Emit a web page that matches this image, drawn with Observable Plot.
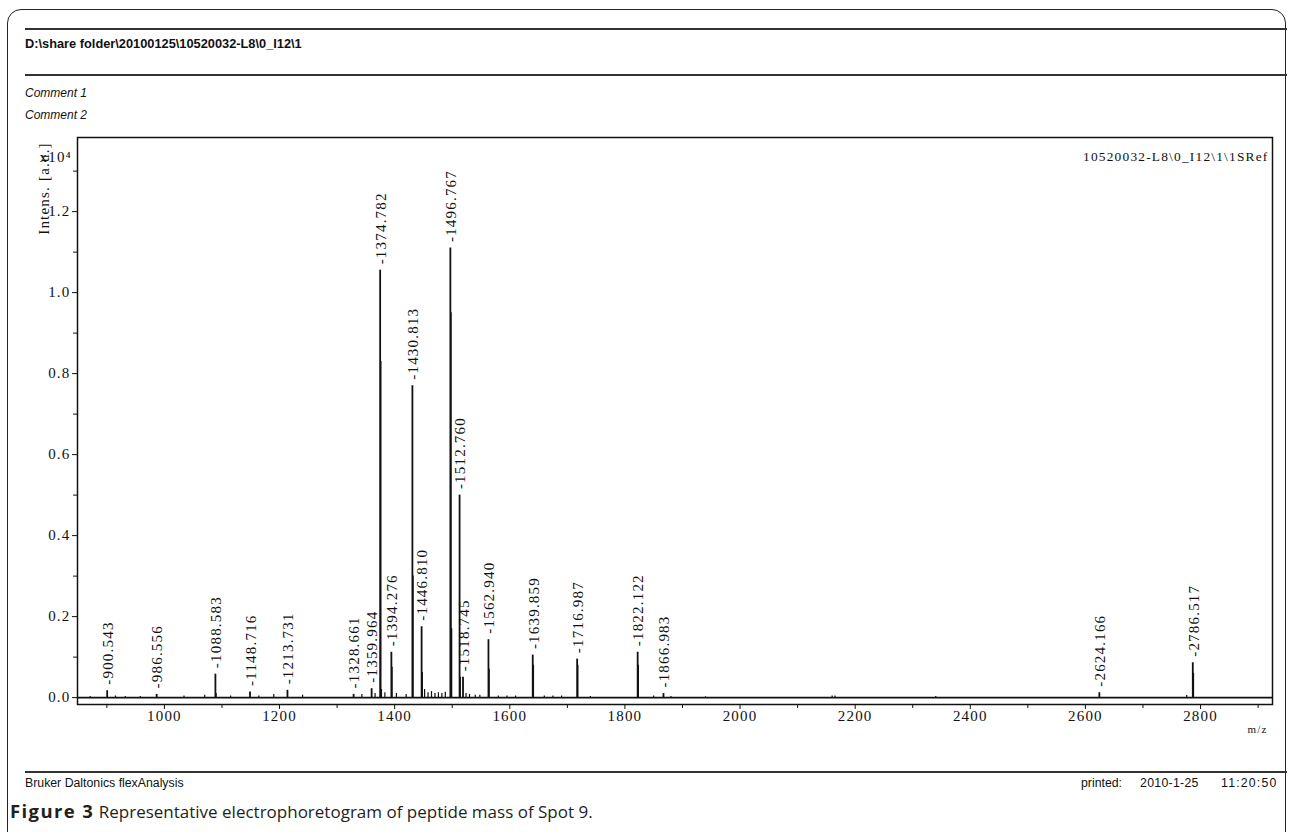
<!DOCTYPE html>
<html>
<head>
<meta charset="utf-8">
<script src="https://cdn.jsdelivr.net/npm/d3@7"></script>
<script src="https://cdn.jsdelivr.net/npm/@observablehq/plot@0.6"></script>
<style>
  html, body { margin: 0; padding: 0; background: #fff; }
  #page { position: relative; width: 1293px; height: 832px; overflow: hidden; background: #fff; }
  #border { position: absolute; left: 7px; top: 9px; width: 1277px; height: 900px; border: 1.5px solid #222; border-radius: 14px; }
  .hline { position: absolute; left: 25px; width: 1262px; height: 0; border-top: 2px solid #333; }
  .txt { position: absolute; font-family: "Liberation Sans", Arial, sans-serif; color: #111; white-space: nowrap; }
  #chart { position: absolute; left: 0; top: 0; }
  #chart svg text { letter-spacing: 1.2px; }
</style>
</head>
<body>
<div id="page">
  <div id="border"></div>
  <div class="hline" style="top:28px"></div>
  <div class="txt" style="left:25px; top:36px; font-size:12.8px; font-weight:bold;">D:\share folder\20100125\10520032-L8\0_I12\1</div>
  <div class="hline" style="top:74px"></div>
  <div class="txt" style="left:25px; top:86px; font-size:12px; font-style:italic;">Comment 1</div>
  <div class="txt" style="left:25px; top:108px; font-size:12px; font-style:italic;">Comment 2</div>
  <div id="chart"></div>
  <div class="hline" style="top:771px; border-top-width:2px;"></div>
  <div class="txt" style="left:25px; top:776px; font-size:12.3px;">Bruker Daltonics flexAnalysis</div>
  <div class="txt" style="left:1081px; top:776px; font-size:12.3px;">printed:</div>
  <div class="txt" style="left:1140px; top:776px; font-size:12.3px; letter-spacing:0.3px;">2010-1-25</div>
  <div class="txt" style="left:1221px; top:776px; font-size:12.3px; letter-spacing:1.2px;">11:20:50</div>
  <div class="txt" style="left:10px; top:798px; font-size:17px; font-family:'Open Sans', sans-serif; color:#231f20;"><b style="font-size:18.5px; letter-spacing:1.4px;">Figure 3</b> Representative electrophoretogram of peptide mass of Spot 9.</div>
</div>
<script>
// Labelled peaks (m/z) and their intensities (x10^4 a.u.)
const peakMz = [900.543, 986.556, 1088.583, 1148.716, 1213.731, 1328.661, 1359.964, 1374.782, 1394.276, 1430.813, 1446.810, 1496.767, 1512.760, 1518.745, 1562.940, 1639.859, 1716.987, 1822.122, 1866.983, 2624.166, 2786.517];
const peakIntensity = [0.017, 0.008, 0.058, 0.014, 0.018, 0.008, 0.022, 1.055, 0.112, 0.77, 0.175, 1.11, 0.50, 0.05, 0.143, 0.105, 0.095, 0.112, 0.01, 0.012, 0.086];

// Isotope sticks next to the main peaks
const isoMz = [1089.58, 1375.78, 1376.78, 1395.28, 1431.81, 1447.81, 1497.77, 1498.77, 1513.76, 1563.94, 1640.86, 1717.99, 1823.12, 2787.52];
const isoIntensity = [0.01, 0.83, 0.02, 0.075, 0.30, 0.062, 0.95, 0.17, 0.05, 0.07, 0.08, 0.08, 0.08, 0.06];

// Small unlabelled noise peaks
const noiseMz = [871, 915, 932, 958, 1034, 1070, 1115, 1164, 1190, 1240, 1343, 1366, 1383, 1403, 1420, 1452, 1458, 1464, 1470, 1476, 1482, 1488, 1524, 1530, 1540, 1548, 1580, 1595, 1610, 1660, 1675, 1690, 1740, 1850, 1880, 1940, 2160, 2165, 2340, 2776];
const noiseIntensity = [0.003, 0.004, 0.003, 0.003, 0.004, 0.006, 0.004, 0.004, 0.008, 0.006, 0.008, 0.01, 0.012, 0.01, 0.008, 0.02, 0.012, 0.015, 0.01, 0.012, 0.01, 0.013, 0.01, 0.008, 0.006, 0.006, 0.004, 0.004, 0.004, 0.004, 0.004, 0.004, 0.003, 0.004, 0.003, 0.002, 0.004, 0.004, 0.003, 0.005];

const xTicks = [1000, 1200, 1400, 1600, 1800, 2000, 2200, 2400, 2600, 2800];
const xMinorTicks = [900, 1100, 1300, 1500, 1700, 1900, 2100, 2300, 2500, 2700, 2900];
const yTicks = [0.0, 0.2, 0.4, 0.6, 0.8, 1.0, 1.2];
const yMinorTicks = [0.1, 0.3, 0.5, 0.7, 0.9, 1.1, 1.3];

const sampleName = "10520032-L8\\0_I12\\1\\1SRef";
const yLabel = "Intens. [a.u.]";
const yExponent = "x10⁴";
const xLabel = "m/z";

const peaks = peakMz.map((mz, i) => ({mz, h: peakIntensity[i], label: "-" + mz.toFixed(3)}));
const iso = isoMz.map((mz, i) => ({mz, h: isoIntensity[i]}));
const noise = noiseMz.map((mz, i) => ({mz, h: noiseIntensity[i]}));

const serif = "'Liberation Serif', 'DejaVu Serif', serif";

const chart = Plot.plot({
  width: 1293,
  height: 760,
  marginLeft: 77,
  marginRight: 21,
  marginTop: 137,
  marginBottom: 56,
  x: {domain: [849, 2925], label: null},
  y: {domain: [-0.017, 1.383], label: null},
  style: {fontFamily: serif, fontSize: "15px", color: "#111", background: "transparent", overflow: "visible"},
  marks: [
    Plot.ruleY([0], {stroke: "#111", strokeWidth: 1.6}),
    Plot.ruleX(noise, {x: "mz", y1: 0, y2: "h", stroke: "#111", strokeWidth: 1.2}),
    Plot.ruleX(iso, {x: "mz", y1: 0, y2: "h", stroke: "#111", strokeWidth: 1.5}),
    Plot.ruleX(peaks, {x: "mz", y1: 0, y2: "h", stroke: "#111", strokeWidth: 1.8}),
    Plot.text(peaks, {x: "mz", y: "h", text: "label", rotate: -90, textAnchor: "start", lineAnchor: "middle", dy: -6, dx: 1, fontSize: 15, fill: "#111"}),
    Plot.axisX(xTicks, {tickSize: 5, tickPadding: 1, tickFormat: d => String(d), label: null, fontSize: 15, stroke: "#111"}),
    Plot.axisX(xMinorTicks, {tickSize: 4, text: null, label: null, stroke: "#111"}),
    Plot.axisY(yTicks, {tickSize: 5, tickPadding: 2, tickFormat: d => d.toFixed(1), label: null, fontSize: 15, stroke: "#111"}),
    Plot.axisY(yMinorTicks, {tickSize: 4, text: null, label: null, stroke: "#111"}),
    Plot.frame({stroke: "#111", strokeWidth: 1.5}),
    Plot.text([sampleName], {frameAnchor: "top-right", textAnchor: "end", dx: -4, dy: 14, fontSize: 13.4, fill: "#111"}),
    Plot.text([yLabel], {frameAnchor: "top-left", rotate: -90, textAnchor: "middle", dx: -39, dy: 51, fontSize: 15, fill: "#111"}),
    Plot.text([yExponent], {frameAnchor: "top-left", textAnchor: "start", dx: -38, dy: 14, fontSize: 15, fill: "#111"}),
    Plot.text([xLabel], {frameAnchor: "bottom-right", textAnchor: "end", dx: -5, dy: 28, fontSize: 11, fill: "#111"})
  ]
});
document.getElementById("chart").appendChild(chart);
</script>
</body>
</html>
